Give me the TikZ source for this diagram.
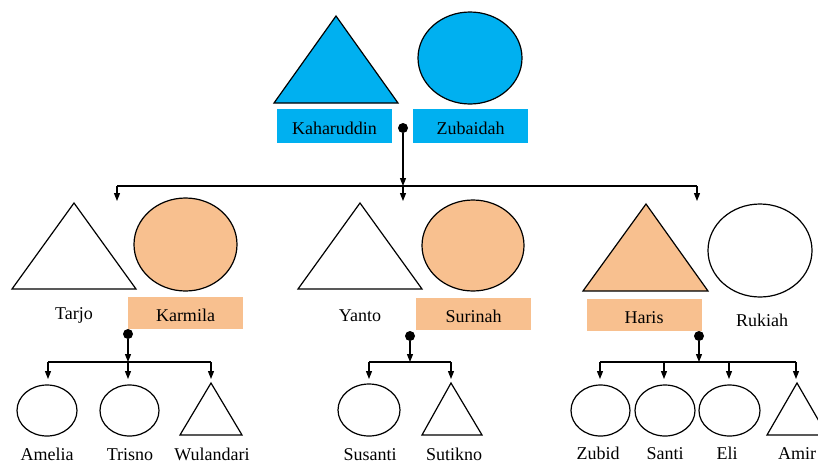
\documentclass[tikz,border=0pt]{standalone}
\usepackage{fontspec}
\setmainfont{Liberation Serif}
\usetikzlibrary{shapes.geometric,arrows.meta}
\definecolor{skyblue}{HTML}{00B0F0}
\definecolor{peach}{HTML}{F8C08F}
\tikzset{
  every node/.style={font=\fontsize{18}{20}\selectfont, inner sep=0pt},
  female/.style={ellipse, draw=black, line width=1.2pt},
  male/.style={draw=black, line width=1.2pt, line join=miter},
  namebox/.style={rectangle, minimum width=115pt, minimum height=32pt,
                  text height=17pt, text depth=0pt},
  nametag/.style={anchor=base},
  knot/.style={circle, fill=black, minimum size=10pt},
  link/.style={line width=1.2pt},
  arr/.style={link, -{Triangle[length=8pt,width=6pt]}},
}
\begin{document}
\begin{tikzpicture}[x=1pt,y=-1pt]
\clip (0,0) rectangle (818,461);

% ---------- first generation ----------
\draw[male, fill=skyblue] (274,103) -- (336,16) -- (398,103) -- cycle;
\node[female, fill=skyblue, minimum width=104pt, minimum height=92pt] (zub) at (470,58) {};
\node[namebox, fill=skyblue, minimum height=34pt] (kahbox) at (334.5,126) {Kaharuddin};
\node[namebox, fill=skyblue, minimum height=34pt] (zubbox) at (470.5,126) {Zubaidah};
\node[knot] (d0) at (403,128) {};

% ---------- second generation ----------
% Tarjo & Karmila
\draw[male] (12,289) -- (74,203) -- (136,289) -- cycle;
\node[nametag] (tarjo) at (74,319) {Tarjo};
\node[female, fill=peach, minimum width=103pt, minimum height=93pt] (karm) at (185.5,244.5) {};
\node[namebox, fill=peach] (karmbox) at (185.5,313) {Karmila};
\node[knot] (d1) at (128,334) {};

% Yanto & Surinah
\draw[male] (298,289) -- (360,203) -- (422,289) -- cycle;
\node[nametag] (yanto) at (360,321) {Yanto};
\node[female, fill=peach, minimum width=102pt, minimum height=91pt] (suri) at (473,245.5) {};
\node[namebox, fill=peach] (suribox) at (473.5,314) {Surinah};
\node[knot] (d2) at (410,336) {};

% Haris & Rukiah
\draw[male, fill=peach] (583,291) -- (646,204) -- (708,291) -- cycle;
\node[namebox, fill=peach] (harisbox) at (644,314.5) {Haris};
\node[female, fill=white, minimum width=104pt, minimum height=93pt] (ruk) at (760,250.5) {};
\node[nametag] (rukiah) at (762,326) {Rukiah};
\node[knot] (d3) at (699,336) {};

% ---------- third generation ----------
\node[female, minimum width=60pt, minimum height=51pt] (amelia) at (47,410.5) {};
\node[female, minimum width=59pt, minimum height=51pt] (trisno) at (129.5,410.5) {};
\draw[male] (180,435) -- (211,383) -- (242,435) -- cycle;
\node[nametag] at (47,460) {Amelia};
\node[nametag] at (130,460) {Trisno};
\node[nametag] at (212,460) {Wulandari};

\node[female, minimum width=62pt, minimum height=52pt] (susanti) at (369,410) {};
\draw[male] (422,435) -- (451,383) -- (482,435) -- cycle;
\node[nametag] at (370,460) {Susanti};
\node[nametag] at (454,460) {Sutikno};

\node[female, minimum width=59pt, minimum height=51pt] (zubid) at (600.5,410.5) {};
\node[female, minimum width=60pt, minimum height=51pt] (santi) at (665,410.5) {};
\node[female, minimum width=61pt, minimum height=51pt] (eli) at (729.5,410.5) {};
\draw[male] (767,435) -- (797,383) -- (827,435) -- cycle;
\node[nametag] at (598,459) {Zubid};
\node[nametag] at (665,459) {Santi};
\node[nametag] at (727,459) {Eli};
\node[nametag] at (797,459) {Amir};

% ---------- connectors ----------
% first family
\coordinate (b0L) at (117,186);
\coordinate (b0R) at (697,186);
\draw[arr] (d0) -- (d0 |- b0L);
\draw[link] (b0L) -- (b0R);
\coordinate (t01) at (117,201);
\coordinate (t02) at (403,201);
\coordinate (t03) at (697,201);
\draw[arr] (b0L) -- (t01);
\draw[arr] (d0 |- b0L) -- (t02);
\draw[arr] (b0R) -- (t03);

% Tarjo & Karmila's children
\coordinate (b1L) at (48,362);
\coordinate (b1R) at (211,362);
\draw[arr] (d1) -- (d1 |- b1L);
\draw[link] (b1L) -- (b1R);
\coordinate (t11) at (48,379);
\coordinate (t12) at (128,379);
\coordinate (t13) at (211,379);
\draw[arr] (b1L) -- (t11);
\draw[arr] (d1 |- b1L) -- (t12);
\draw[arr] (b1R) -- (t13);

% Yanto & Surinah's children
\coordinate (b2L) at (369,362);
\coordinate (b2R) at (451,362);
\draw[arr] (d2) -- (d2 |- b2L);
\draw[link] (b2L) -- (b2R);
\coordinate (t21) at (369,379);
\coordinate (t22) at (451,379);
\draw[arr] (b2L) -- (t21);
\draw[arr] (b2R) -- (t22);

% Haris & Rukiah's children
\coordinate (b3L) at (600,362);
\coordinate (b3R) at (796,362);
\draw[arr] (d3) -- (d3 |- b3L);
\draw[link] (b3L) -- (b3R);
\coordinate (t31) at (600,379);
\coordinate (t32) at (664,379);
\coordinate (t33) at (729,379);
\coordinate (t34) at (796,379);
\draw[arr] (b3L) -- (t31);
\draw[arr] (b3L -| t32) -- (t32);
\draw[arr] (b3L -| t33) -- (t33);
\draw[arr] (b3R) -- (t34);
\end{tikzpicture}
\end{document}
